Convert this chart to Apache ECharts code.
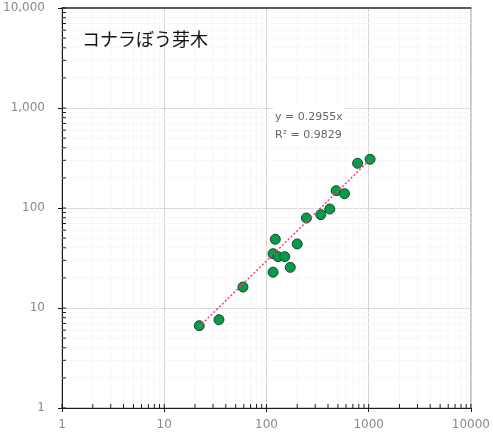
<!DOCTYPE html>
<html>
<head>
<meta charset="utf-8">
<script src="https://cdn.jsdelivr.net/npm/echarts@6/dist/echarts.min.js"></script>
<style>
  html, body { margin: 0; padding: 0; background: #ffffff; }
  #chart { width: 493px; height: 436px; }
</style>
</head>
<body>
<div id="chart"></div>
<script>
// Sprout-tree measurements (log-log scatter) with a zero-intercept linear fit
const title = 'コナラぼう芽木';
const xValues = [22.0, 34.3, 58.9, 116, 122, 116, 130, 151, 171, 200, 246, 340, 416, 481, 580, 779, 1032];
const yValues = [6.65, 7.64, 16.2, 22.8, 48.6, 34.9, 32.6, 32.6, 25.5, 43.7, 79.4, 85.8, 97.7, 149, 139, 280, 307];
const fitSlope = 0.2955;
const fitR2 = 0.9829;
const xTickLabels = ['1', '10', '100', '1000', '10000'];
const yTickLabels = ['1', '10', '100', '1,000', '10,000'];

const points = xValues.map((x, i) => [x, yValues[i]]);
const xMin = Math.min(...xValues);
const xMax = Math.max(...xValues);
const fitLine = [[xMin, fitSlope * xMin], [xMax, fitSlope * xMax]];

// Tick positions for the logarithmic axes: decades and their 2..9 subdivisions
const tickValues = [];
for (let d = 1; d <= 1000; d *= 10) {
  for (let m = 1; m <= 9; m++) tickValues.push({ v: d * m, major: m === 1 });
}
tickValues.push({ v: 10000, major: true });

const labelFont = { fontFamily: 'DejaVu Sans', fontSize: 12, color: '#8a8a8a' };

function decadeLabel(list) {
  return function (val) {
    const k = Math.round(Math.log10(val));
    return list[k] !== undefined ? list[k] : '';
  };
}

const chart = echarts.init(document.getElementById('chart'), null, { renderer: 'canvas' });

chart.setOption({
  animation: false,
  backgroundColor: '#ffffff',
  grid: {
    left: 59, right: 19, top: 8, bottom: 28,
    show: true, borderColor: '#9a9a9a', borderWidth: 1, backgroundColor: 'transparent'
  },
  title: {
    text: title,
    left: 77, top: 25,
    textStyle: { fontFamily: 'Noto Sans CJK JP', fontSize: 18, fontWeight: 'normal', color: '#111111' }
  },
  graphic: [{
    type: 'text',
    left: 273, top: 108,
    z: 20,
    style: {
      text: 'y = ' + fitSlope + 'x\nR² = ' + fitR2,
      fontFamily: 'DejaVu Sans', fontSize: 11, lineHeight: 18, fill: '#666666',
      backgroundColor: '#ffffff', padding: [0, 2]
    }
  }],
  xAxis: [{
    type: 'log', logBase: 10, min: 1, max: 10000,
    axisLine: { show: true, lineStyle: { color: '#1a1a1a', width: 1 } },
    axisTick: { show: true, inside: false, length: 4, lineStyle: { color: '#1a1a1a' } },
    axisLabel: Object.assign({ margin: 11, formatter: decadeLabel(xTickLabels), showMaxLabel: true, showMinLabel: true }, labelFont),
    splitLine: { show: true, lineStyle: { color: '#d4d4d4', width: 1 } }
  }, {
    type: 'log', logBase: 10, min: 1, max: 10000, position: 'top',
    axisLine: { show: true, lineStyle: { color: '#333333', width: 1.5 } },
    axisTick: { show: false }, axisLabel: { show: false }, splitLine: { show: false }
  }],
  yAxis: {
    type: 'log', logBase: 10, min: 1, max: 10000,
    axisLine: { show: true, lineStyle: { color: '#1a1a1a', width: 1 } },
    axisTick: { show: true, inside: false, length: 4, lineStyle: { color: '#1a1a1a' } },
    axisLabel: Object.assign({ margin: 17, formatter: decadeLabel(yTickLabels), showMaxLabel: true, showMinLabel: true }, labelFont),
    splitLine: { show: true, lineStyle: { color: '#dadada', width: 1 } }
  },
  series: [
    {
      // faint minor gridlines and inside tick marks on both axes
      type: 'custom',
      coordinateSystem: 'cartesian2d',
      silent: true,
      z: 1,
      clip: false,
      data: tickValues.map(t => [t.v, t.v, t.major ? 1 : 0]),
      encode: { x: 0, y: 1 },
      renderItem: function (params, api) {
        const v = api.value(0);
        const major = api.value(2) === 1;
        const bl = api.coord([1, 1]);
        const tr = api.coord([10000, 10000]);
        const px = api.coord([v, 1])[0];
        const py = api.coord([1, v])[1];
        const children = [];
        if (!major) {
          children.push({ type: 'line', shape: { x1: px, y1: bl[1], x2: px, y2: tr[1] + 1 }, style: { stroke: '#f7f7f7', lineWidth: 1 } });
          children.push({ type: 'line', shape: { x1: bl[0], y1: py, x2: tr[0], y2: py }, style: { stroke: '#f7f7f7', lineWidth: 1 } });
        }
        const tl = 4;
        children.push({ type: 'line', shape: { x1: px, y1: bl[1], x2: px, y2: bl[1] - tl }, style: { stroke: '#1a1a1a', lineWidth: 1 } });
        children.push({ type: 'line', shape: { x1: bl[0], y1: py, x2: bl[0] + tl, y2: py }, style: { stroke: '#1a1a1a', lineWidth: 1 } });
        return { type: 'group', children: children };
      }
    },
    {
      type: 'scatter',
      data: points,
      symbol: 'circle',
      symbolSize: 10,
      z: 3,
      itemStyle: { color: '#0a9a4c', borderColor: '#0e4d27', borderWidth: 1, opacity: 1 }
    },
    {
      type: 'line',
      data: fitLine,
      symbol: 'none',
      z: 4,
      lineStyle: { color: '#ff3d6e', width: 1.5, type: [2, 2] }
    }
  ]
});
</script>
</body>
</html>
